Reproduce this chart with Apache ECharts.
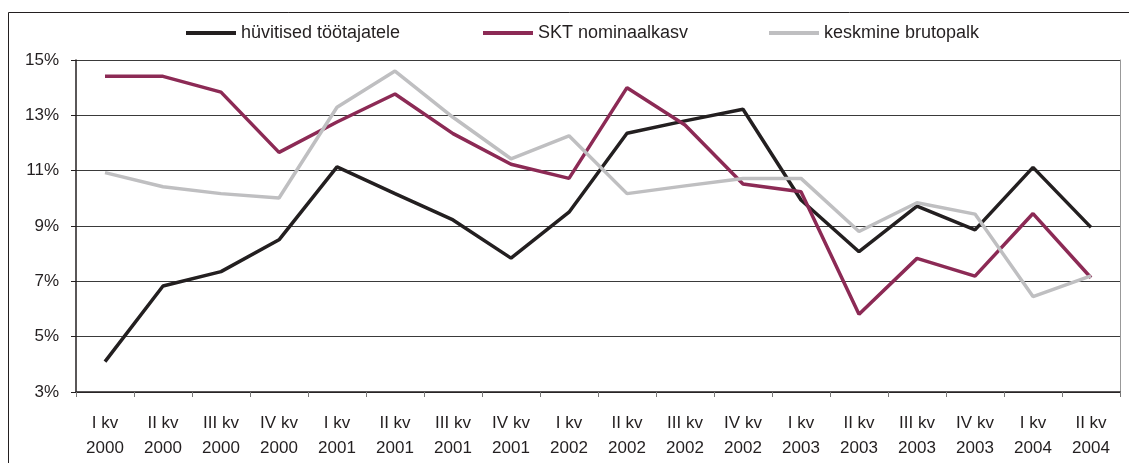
<!DOCTYPE html>
<html>
<head>
<meta charset="utf-8">
<script src="https://cdn.jsdelivr.net/npm/echarts@6/dist/echarts.min.js"></script>
<style>
  html, body { margin: 0; padding: 0; background: #fff; }
  #chart { width: 1129px; height: 463px; }
</style>
</head>
<body>
<div id="chart"></div>
<script>
// kvartalid
const categories = [
  'I kv\n2000', 'II kv\n2000', 'III kv\n2000', 'IV kv\n2000',
  'I kv\n2001', 'II kv\n2001', 'III kv\n2001', 'IV kv\n2001',
  'I kv\n2002', 'II kv\n2002', 'III kv\n2002', 'IV kv\n2002',
  'I kv\n2003', 'II kv\n2003', 'III kv\n2003', 'IV kv\n2003',
  'I kv\n2004', 'II kv\n2004'
];
const huvitised = [4.1, 6.83, 7.35, 8.5, 11.14, 10.17, 9.22, 7.84, 9.5, 12.35, 12.8, 13.22, 9.94, 8.07, 9.72, 8.86, 11.12, 8.95];
const sktKasv = [14.41, 14.41, 13.84, 11.66, 12.76, 13.77, 12.34, 11.23, 10.72, 14.0, 12.65, 10.52, 10.24, 5.81, 7.83, 7.19, 9.45, 7.13];
const brutopalk = [10.93, 10.42, 10.17, 10.01, 13.29, 14.6, 12.93, 11.43, 12.26, 10.17, 10.45, 10.72, 10.72, 8.8, 9.84, 9.43, 6.45, 7.2];
const yTicks = { min: 3, max: 15, interval: 2 };

const colBlack = '#231f20';
const colRed = '#8c2a55';
const colGray = '#bfbfc1';
const font = 'Liberation Sans, Arial, sans-serif';

const chart = echarts.init(document.getElementById('chart'));

function legendFor(name, left) {
  return {
    data: [name],
    left: left,
    top: 24,
    padding: 0,
    icon: 'rect',
    itemWidth: 50,
    itemHeight: 4,
    itemGap: 0,
    textStyle: { fontFamily: font, fontSize: 18, color: colBlack },
    selectedMode: false
  };
}

chart.setOption({
  animation: false,
  backgroundColor: '#fff',
  graphic: [{
    type: 'rect',
    shape: { x: 8.5, y: 12.5, width: 1200, height: 500 },
    style: { fill: 'none', stroke: '#231f20', lineWidth: 1 },
    silent: true
  }],
  legend: [
    legendFor('hüvitised töötajatele', 186),
    legendFor('SKT nominaalkasv', 483),
    legendFor('keskmine brutopalk', 769)
  ],
  grid: { left: 76, top: 60, right: 9, bottom: 71, containLabel: false },
  xAxis: {
    type: 'category',
    data: categories,
    boundaryGap: true,
    axisLine: { lineStyle: { color: colBlack, width: 1.5 } },
    axisTick: { show: true, length: 5, lineStyle: { color: '#777' } },
    axisLabel: {
      fontFamily: font, fontSize: 17, color: colBlack,
      lineHeight: 25, margin: 19, interval: 0
    }
  },
  yAxis: [{
    type: 'value',
    min: yTicks.min, max: yTicks.max, interval: yTicks.interval,
    axisLine: { show: true, lineStyle: { color: colBlack, width: 1.5 } },
    axisTick: { show: true, length: 5, inside: false, lineStyle: { color: colBlack } },
    axisLabel: {
      fontFamily: font, fontSize: 17, color: colBlack, margin: 17,
      formatter: v => v + '%'
    },
    splitLine: { lineStyle: { color: '#3a3a3a', width: 1 } }
  }, {
    type: 'value',
    position: 'right',
    min: yTicks.min, max: yTicks.max, interval: yTicks.interval,
    axisLine: { show: true, lineStyle: { color: '#999', width: 1 } },
    axisTick: { show: false },
    axisLabel: { show: false },
    splitLine: { show: false }
  }],
  series: [{
    name: 'hüvitised töötajatele',
    type: 'line',
    data: huvitised,
    symbol: 'none',
    color: colBlack,
    lineStyle: { color: colBlack, width: 3.5 }
  }, {
    name: 'SKT nominaalkasv',
    type: 'line',
    data: sktKasv,
    symbol: 'none',
    color: colRed,
    lineStyle: { color: colRed, width: 3.5 }
  }, {
    name: 'keskmine brutopalk',
    type: 'line',
    data: brutopalk,
    symbol: 'none',
    color: colGray,
    lineStyle: { color: colGray, width: 3.5 }
  }]
});
</script>
</body>
</html>
